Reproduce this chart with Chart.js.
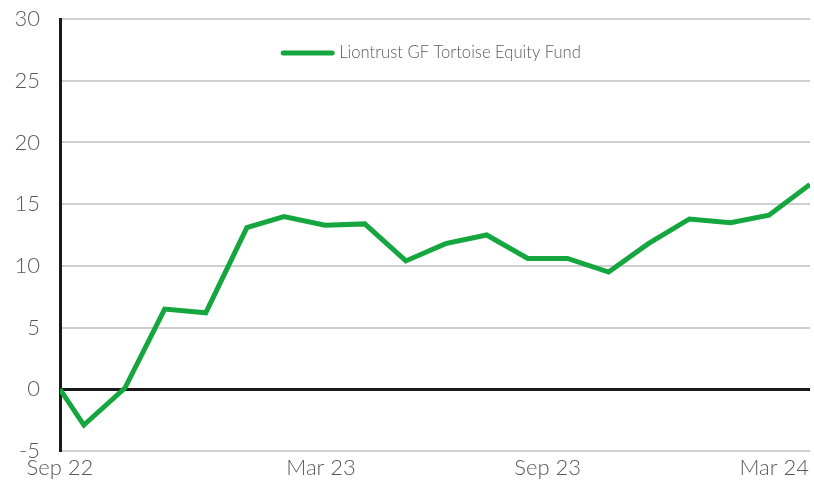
<!doctype html>
<html lang="en">
  <head>
    <meta charset="utf-8">
    <title>Liontrust GF Tortoise Equity Fund</title>
    <style>
      * {
        margin: 0;
        padding: 0;
      }
      body {
        background: #fff;
      }
      .chartBox {
        width: 814px;
        height: 484px;
      }
    </style>
  </head>
  <body>
    <div class="chartBox">
      <canvas id="myChart"></canvas>
    </div>
    <script src="https://cdn.jsdelivr.net/npm/chart.js"></script>
    <script>
    // setup
    const fundName = 'Liontrust GF Tortoise Equity Fund';
    const dates = [
      '2022-09-12', '2022-09-30', '2022-10-31', '2022-11-30', '2022-12-31',
      '2023-01-31', '2023-02-28', '2023-03-31', '2023-04-30', '2023-05-31',
      '2023-06-30', '2023-07-31', '2023-08-31', '2023-09-30', '2023-10-31',
      '2023-11-30', '2023-12-31', '2024-01-31', '2024-02-29', '2024-03-31'
    ];
    const returns = [
      0.0, -2.9, 0.1, 6.5, 6.2,
      13.1, 14.0, 13.3, 13.4, 10.4,
      11.8, 12.5, 10.6, 10.6, 9.5,
      11.8, 13.8, 13.5, 14.1, 16.6
    ];
    const tickDates = ['2022-09-12', '2023-03-28', '2023-09-15', '2024-03-04'];
    const tickLabels = ['Sep 22', 'Mar 23', 'Sep 23', 'Mar 24'];

    const dayNum = s => Date.parse(s + 'T00:00:00Z') / 86400000;
    const tickDays = tickDates.map(dayNum);

    const green = '#16a63f';
    const textGrey = '#595959';
    const fontFamily = 'Lato, sans-serif';

    // legend drawn inside the plot, near the top
    const innerLegend = {
      id: 'innerLegend',
      afterDraw(chart) {
        const { ctx, chartArea } = chart;
        ctx.save();
        ctx.font = '300 16.6px ' + fontFamily;
        const textW = ctx.measureText(fundName).width;
        const lineW = 53, gap = 5;
        const total = lineW + gap + textW;
        const x0 = (chartArea.left + chartArea.right) / 2 - total / 2 - 4;
        const y = chartArea.top + 34;
        ctx.strokeStyle = green;
        ctx.lineWidth = 5;
        ctx.lineCap = 'round';
        ctx.beginPath();
        ctx.moveTo(x0 + 2, y);
        ctx.lineTo(x0 + lineW - 2, y);
        ctx.stroke();
        ctx.fillStyle = textGrey;
        ctx.textBaseline = 'middle';
        ctx.fillText(fundName, x0 + lineW + gap, y);
        ctx.restore();
      }
    };

    const data = {
      datasets: [{
        label: fundName,
        data: dates.map((d, i) => ({ x: dayNum(d), y: returns[i] })),
        borderColor: green,
        backgroundColor: green,
        borderWidth: 5,
        pointRadius: 0,
        tension: 0
      }]
    };

    // config
    const config = {
      type: 'line',
      data,
      options: {
        responsive: true,
        maintainAspectRatio: false,
        animation: false,
        layout: {
          padding: { left: 0, right: 4, top: 19, bottom: 0 }
        },
        plugins: {
          legend: { display: false },
          tooltip: { enabled: false }
        },
        scales: {
          x: {
            type: 'linear',
            min: dayNum(dates[0]),
            max: dayNum(dates[dates.length - 1]),
            afterBuildTicks: axis => {
              axis.ticks = tickDays.map(v => ({ value: v }));
            },
            afterFit: axis => {
              axis.height = 33;
              axis.paddingLeft = 0;
              axis.paddingRight = 0;
            },
            grid: { display: false, drawTicks: false },
            border: { display: false },
            ticks: {
              autoSkip: false,
              maxRotation: 0,
              padding: 4,
              color: textGrey,
              font: { family: fontFamily, size: 22, weight: 300 },
              callback: (value) => tickLabels[tickDays.indexOf(value)]
            }
          },
          y: {
            min: -5,
            max: 30,
            afterFit: axis => {
              axis.width = 60;
              axis.paddingTop = 0;
              axis.paddingBottom = 0;
            },
            ticks: {
              stepSize: 5,
              padding: 20,
              color: textGrey,
              font: { family: fontFamily, size: 22, weight: 300 }
            },
            grid: {
              drawTicks: false,
              color: ctx => ctx.tick && ctx.tick.value === 0 ? '#1a1a1a' : '#cfcfcf',
              lineWidth: ctx => ctx.tick && ctx.tick.value === 0 ? 3 : 2
            },
            border: { display: true, color: '#1a1a1a', width: 3 }
          }
        }
      },
      plugins: [innerLegend]
    };

    // render init block
    const myChart = new Chart(document.getElementById('myChart'), config);
    </script>
  </body>
</html>
